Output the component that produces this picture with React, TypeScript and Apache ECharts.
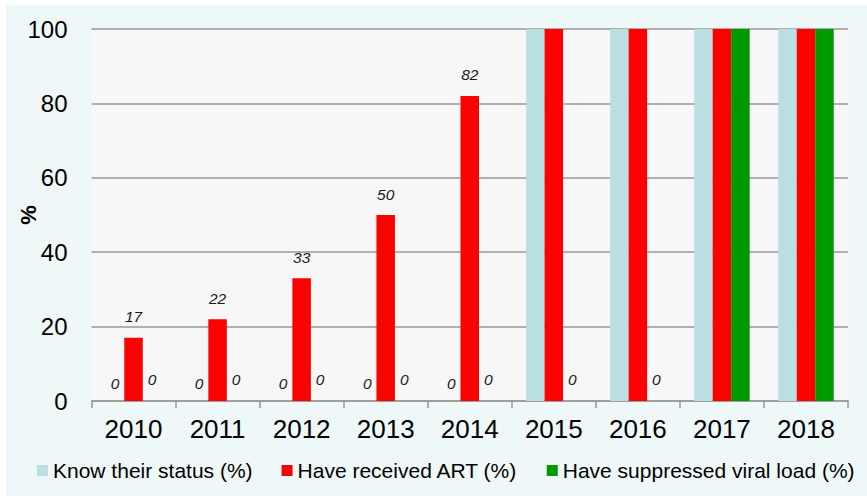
import React, { useEffect, useRef } from "react";
import * as echarts from "echarts";

const years = ["2010", "2011", "2012", "2013", "2014", "2015", "2016", "2017", "2018"];
const knowStatus = [0, 0, 0, 0, 0, 100, 100, 100, 100];
const receivedART = [17, 22, 33, 50, 82, 100, 100, 100, 100];
const suppressed = [0, 0, 0, 0, 0, 0, 0, 100, 100];
const seriesNames = ["Know their status (%)", "Have received ART (%)", "Have suppressed viral load (%)"];
const colors = ["#b9dfe3", "#ff0000", "#009900"];

export default function App() {
  const ref = useRef<HTMLDivElement>(null);
  useEffect(() => {
    document.body.style.margin = "0";
    if (!ref.current) return;
    const chart = echarts.init(ref.current, undefined, { renderer: "svg" });
    const font = "Arial, 'Liberation Sans', sans-serif";
    const mkLabel = (distance: number) => ({
      show: true,
      position: "top",
      distance,
      fontStyle: "italic",
      fontSize: 15.5,
      fontFamily: font,
      color: "#1a1a1a",
      formatter: (p: any) => (p.value >= 100 ? "" : String(p.value)),
    });
    const datasets = [knowStatus, receivedART, suppressed];
    const distances = [10, 13, 14];
    chart.setOption({
      animation: false,
      backgroundColor: "#eff8f8",
      textStyle: { fontFamily: font },
      grid: {
        left: 85.5,
        right: 19,
        top: 24,
        bottom: 95,
        containLabel: false,
        outerBoundsMode: "none",
        show: true,
        backgroundColor: "#f7f7f7",
        borderWidth: 0,
      },
      legend: {
        left: 31,
        top: 455,
        padding: 0,
        itemGap: 29,
        itemWidth: 11,
        itemHeight: 11,
        icon: "rect",
        textStyle: { fontSize: 21, color: "#000", fontFamily: font },
        data: seriesNames,
      },
      xAxis: {
        type: "category",
        data: years,
        axisLine: { lineStyle: { color: "#999", width: 1.5 } },
        axisTick: { show: true, length: 7, lineStyle: { color: "#999", width: 1.5 } },
        axisLabel: { fontSize: 26, color: "#000", margin: 15, fontFamily: font },
      },
      yAxis: {
        type: "value",
        min: 0,
        max: 100,
        interval: 20,
        name: "%",
        nameLocation: "middle",
        nameGap: 52,
        nameRotate: 90,
        nameMoveOverlap: false,
        nameTextStyle: { fontSize: 22, fontWeight: "bold", color: "#000", fontFamily: font },
        axisLine: { show: false },
        axisTick: { show: false },
        axisLabel: { fontSize: 24, color: "#000", margin: 24, fontFamily: font },
        splitLine: { lineStyle: { color: "#999", width: 1.5 } },
      },
      series: datasets.map((d, i) => ({
        name: seriesNames[i],
        type: "bar",
        data: d,
        barWidth: 18.5,
        barGap: "0%",
        itemStyle: { color: colors[i] },
        label: mkLabel(distances[i]),
      })),
    });
    return () => chart.dispose();
  }, []);
  return (
    <div style={{ width: 867, height: 496, background: "#fff", position: "relative" }}>
      <div ref={ref} style={{ position: "absolute", left: 6, top: 5, width: 861, height: 491 }} />
    </div>
  );
}
